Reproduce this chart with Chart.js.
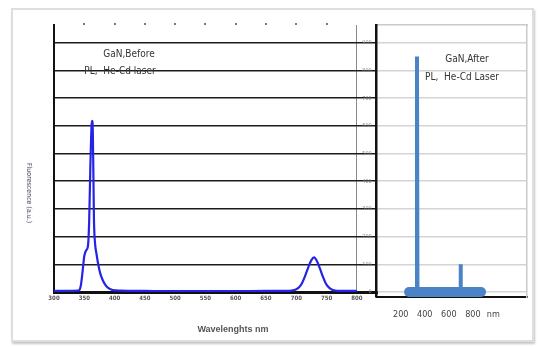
<!DOCTYPE html>
<html>
<head>
<meta charset="utf-8">
<script src="https://cdn.jsdelivr.net/npm/chart.js@4.4.0/dist/chart.umd.min.js"></script>
<style>
  body { margin: 0; background: #fff; }
  #wrap { position: relative; width: 540px; height: 347px; overflow: hidden; background: #fff; }
  #frame { position: absolute; left: 11px; top: 8px; width: 519px; height: 330px; border: 2px solid #dedede; box-shadow: 1px 2px 2px #c6c6c6; }
  canvas { position: absolute; left: 0; top: 0; }
  .note { position: absolute; transform: translate(-50%, -50%); white-space: nowrap;
          font-family: "Liberation Sans Narrow", "DejaVu Sans Condensed", sans-serif; font-size: 10px; color: #333; }
  #xtitle { font-family: "Liberation Sans", sans-serif; font-size: 9px; font-weight: bold; color: #555; }
  #ytitle { font-family: "DejaVu Sans Condensed", sans-serif; font-size: 7px; color: #3a3a5a; transform: translate(-50%, -50%) rotate(90deg); }
</style>
</head>
<body>
<div id="wrap">
  <div id="frame"></div>
  <canvas id="before" width="540" height="347"></canvas>
  <canvas id="after" width="540" height="347"></canvas>
  <div class="note" style="left:129px; top:53px;">GaN,Before</div>
  <div class="note" style="left:120px; top:70px;">PL,&nbsp; He-Cd laser</div>
  <div class="note" style="left:467px; top:58px;">GaN,After</div>
  <div class="note" style="left:462px; top:76px;">PL,&nbsp; He-Cd Laser</div>
  <div class="note" id="xtitle" style="left:233px; top:329px;">Wavelenghts nm</div>
  <div class="note" id="ytitle" style="left:29px; top:193px;">Fluorescence (a.u.)</div>
</div>
<script>
// before: PL spectrum, He-Cd laser (left panel)
const beforeWl  = [300, 320, 340, 344, 347, 350, 353, 356, 358, 360, 362, 363, 364, 365, 366, 368, 370, 373, 376, 380, 385, 390, 397, 410, 450, 500, 550, 600, 650, 680, 695, 703, 709, 715, 720, 725, 729.5, 734, 739, 744, 749, 755, 762, 775, 800];
const beforeInt = [4, 4, 5, 20, 70, 130, 150, 165, 250, 450, 600, 618, 590, 430, 260, 170, 140, 100, 70, 45, 25, 14, 7, 5, 4, 3, 3, 3, 4, 4, 6, 14, 30, 60, 90, 115, 125, 112, 85, 55, 30, 14, 6, 4, 4];

// after: PL spectrum (right panel)
const afterWl  = [269, 320, 331, 335, 339, 350, 690, 696, 698, 700, 706, 868];
const afterInt = [0, 0, 5, 850, 5, 0, 0, 5, 100, 5, 0, 0];
const bandWl   = [269, 868];
const bandInt  = [0, 0];

// ticks
const leftTicks = [300, 350, 400, 450, 500, 550, 600, 650, 700, 750, 800];
const topDots = [350, 400, 450, 500, 550, 600, 650, 700, 750];
const yTicks = [0, 100, 200, 300, 400, 500, 600, 700, 800, 900];
const rightTickPos = [200, 400, 600, 800, 970];
const rightTickLabels = ['200', '400', '600', '800', 'nm'];

const pts = (xs, ys) => xs.map((x, i) => ({ x: x, y: ys[i] }));
const setTicks = arr => s => { s.ticks = arr.map(v => ({ value: v })); };

new Chart(document.getElementById('before'), {
  type: 'line',
  data: {
    datasets: [{
      data: pts(beforeWl, beforeInt),
      borderColor: '#2424e6',
      borderWidth: 2.2,
      pointRadius: 0,
      cubicInterpolationMode: 'monotone'
    }]
  },
  options: {
    responsive: false,
    animation: false,
    devicePixelRatio: 1,
    layout: { padding: { left: 20, right: 163, top: 23, bottom: 43 } },
    plugins: { legend: { display: false }, tooltip: { enabled: false } },
    scales: {
      x: {
        type: 'linear', position: 'bottom', min: 300, max: 833.3,
        afterBuildTicks: setTicks(leftTicks),
        afterFit: s => { s.height = 12; },
        // only the 800 line is shown: the thin right edge of the left panel
        grid: { drawTicks: false, lineWidth: 1,
                color: c => c.tick && c.tick.value === 800 ? '#8a8a8a' : 'rgba(0,0,0,0)' },
        border: { color: '#111', width: 3 },
        ticks: { padding: 3, color: '#555', autoSkip: false, maxRotation: 0,
                 font: { size: 6, weight: 'bold', family: 'DejaVu Sans Condensed, sans-serif' } }
      },
      xTop: {
        type: 'linear', position: 'top', min: 300, max: 833.3,
        afterBuildTicks: setTicks(topDots),
        afterFit: s => { s.height = 2; },
        grid: { drawOnChartArea: false, tickLength: 2, color: '#777', lineWidth: 2 },
        border: { display: false },
        ticks: { display: false }
      },
      y: {
        min: 0, max: 964,
        afterBuildTicks: setTicks(yTicks),
        afterFit: s => { s.width = 34; },
        grid: { color: '#1c1c1c', lineWidth: 1.5, drawTicks: false },
        border: { color: '#111', width: 2 },
        ticks: { display: false }
      }
    }
  }
});

new Chart(document.getElementById('after'), {
  type: 'line',
  data: {
    datasets: [{
      data: pts(afterWl, afterInt),
      borderColor: '#4a84c6',
      borderWidth: 4,
      pointRadius: 0,
      tension: 0
    }, {
      data: pts(bandWl, bandInt),
      borderColor: '#4a84c6',
      borderWidth: 10,
      borderCapStyle: 'round',
      pointRadius: 0
    }]
  },
  options: {
    responsive: false,
    animation: false,
    devicePixelRatio: 1,
    layout: { padding: { left: 340, right: 13, top: 25, bottom: 20 } },
    plugins: { legend: { display: false }, tooltip: { enabled: false } },
    scales: {
      x: {
        type: 'linear', position: 'bottom', min: 0, max: 1250,
        afterBuildTicks: setTicks(rightTickPos),
        afterFit: s => { s.height = 30; },
        grid: { display: false, drawTicks: false },
        border: { color: '#111', width: 2 },
        ticks: { padding: 12, color: '#444', autoSkip: false, maxRotation: 0,
                 callback: v => rightTickLabels[rightTickPos.indexOf(v)],
                 font: { size: 9, family: 'Liberation Sans Narrow, DejaVu Sans Condensed, sans-serif' } }
      },
      xTop: {
        type: 'linear', position: 'top', min: 0, max: 1,
        afterFit: s => { s.height = 0; },
        grid: { display: false, drawTicks: false },
        border: { color: '#cacaca', width: 1.5 },
        ticks: { display: false }
      },
      y: {
        min: -18, max: 964,
        afterBuildTicks: setTicks(yTicks),
        afterFit: s => { s.width = 36.7; },
        grid: { color: '#d4d4d4', lineWidth: 1.5, drawTicks: false },
        border: { color: '#111', width: 2.5 },
        ticks: { padding: 5, color: '#888', font: { size: 5.5, family: 'DejaVu Sans Condensed, sans-serif' } }
      },
      yRight: {
        position: 'right', min: 0, max: 1,
        afterFit: s => { s.width = 0; },
        grid: { display: false, drawTicks: false },
        border: { color: '#cacaca', width: 1.5 },
        ticks: { display: false }
      }
    }
  }
});
</script>
</body>
</html>
